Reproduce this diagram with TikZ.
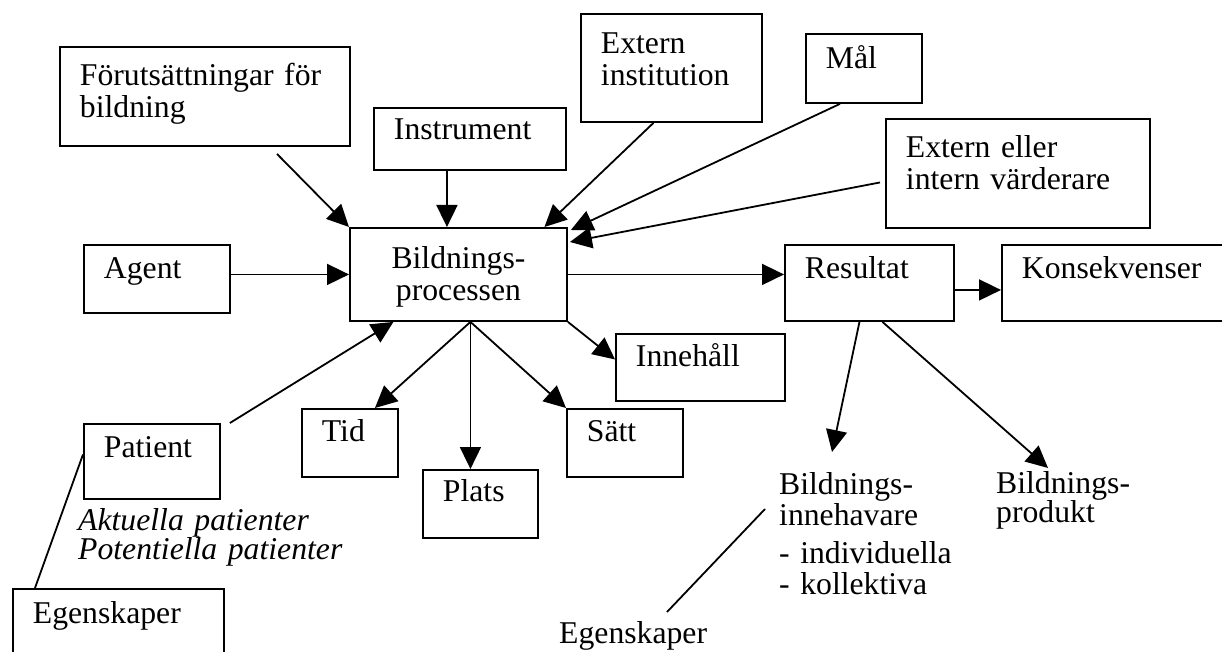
\documentclass[tikz,border=0pt]{standalone}
\usepackage{fontspec}
\setmainfont{Liberation Serif}
\usepackage{tikz}
\usetikzlibrary{arrows.meta}
\hyphenpenalty=10000
\exhyphenpenalty=10000

\begin{document}
\begin{tikzpicture}[x=1pt, y=-1pt,
    every node/.style={font=\fontsize{31.7}{31.5}\selectfont},
    box/.style={draw, line width=1.9pt, anchor=north west, inner xsep=20pt, inner ysep=0pt, align=left, text height=34pt},
    plain/.style={anchor=base west, inner sep=0pt, align=left},
    arr/.style={-{Triangle[length=22pt,width=21pt]}, line width=1.8pt},
    link/.style={line width=1.8pt}]
    \useasboundingbox (0,0) rectangle (1222,652);
    % boxes round the process
    \node[box, text width=250pt, text height=39pt, text depth=60pt] (forut) at (59,46) {Förutsättningar för\\bildning};
    \node[box, text width=152pt, text height=32pt, text depth=30pt] (instr) at (373,107) {Instrument};
    \node[box, text width=141pt, text height=40pt, text depth=68pt] (extinst) at (580,13) {Extern\\institution};
    \node[box, text width=76pt, text height=35pt, text depth=34pt] (mal) at (805,33) {Mål};
    \node[box, text width=224pt, text height=39pt, text depth=70pt] (exteller) at (885,118) {Extern eller\\intern värderare};
    \node[box, text width=106pt, text depth=34pt] (agent) at (83,244) {Agent};
    \node[box, align=center, text width=177pt, text height=41pt, text depth=52pt] (bildn) at (349,227) {Bildnings-\\processen};
    \node[box, text width=129pt, text depth=42pt] (resultat) at (784,244) {Resultat};
    \node[box, text width=200pt, text depth=42pt] (konsek) at (1001,244) {Konsekvenser};
    \node[box, text width=129pt, text height=33pt, text depth=34pt] (innehall) at (615,333) {Innehåll};
    \node[box, text width=96pt, text depth=41pt] (patient) at (83,423) {Patient};
    \node[box, text width=56pt, text height=33pt, text depth=35pt] (tid) at (301,408) {Tid};
    \node[box, text width=75pt, text height=32pt, text depth=36pt] (plats) at (422,469) {Plats};
    \node[box, text width=76pt, text height=33pt, text depth=35pt] (satt) at (566,408) {Sätt};
    \node[box, text width=171pt, text height=35pt, text depth=50pt] (egensk) at (12,588) {Egenskaper};
    % free texts
    \node[plain, text width=220pt] (innehavare) at (779,494) {Bildnings-\\innehavare\\[6pt]- individuella\\- kollektiva};
    \node[plain, text width=160pt] (produkt) at (996,493) {Bildnings-\\[-2pt]produkt};
    \node[plain, text width=300pt, font=\fontsize{31.7}{31.5}\selectfont\itshape] (patienttext) at (78,530) {Aktuella patienter\\[-2pt]Potentiella patienter};
    \node[plain] (egensk2) at (559,643) {Egenskaper};
    % into the process
    \draw[arr] ([shift={(72,7)}]forut.south) -- (bildn.north west);
    \draw[arr] ([xshift=-23pt]instr.south) -- ([xshift=-23pt]instr.south |- bildn.north);
    \draw[arr] ([xshift=-18pt]extinst.south) -- ([xshift=86pt]bildn.north);
    \draw[arr] ([xshift=-24pt]mal.south) -- ([shift={(3,3)}]bildn.north east);
    \draw[arr] ([shift={(-5,9)}]exteller.west) -- ([shift={(2,15)}]bildn.north east);
    \draw[arr] (agent.east |- bildn.west) -- (bildn.west);
    \draw[arr] ([xshift=9pt]patient.north east) -- ([xshift=-65pt]bildn.south);
    % out of the process
    \coordinate (fan) at ([xshift=12pt]bildn.south);
    \draw[arr] (fan) -- ([xshift=25pt]tid.north);
    \draw[arr] (fan) -- (fan |- plats.north);
    \draw[arr] (fan) -- (satt.north west);
    \draw[arr] (bildn.south east) -- ([yshift=8pt]innehall.west);
    \draw[arr] (bildn.east) -- (bildn.east -| resultat.west);
    \draw[arr] ([yshift=-7pt]resultat.east) -- ([yshift=-7pt]resultat.east -| konsek.west);
    \draw[arr] ([xshift=-10pt]resultat.south) -- ([shift={(53,-42)}]innehavare.base west);
    \draw[arr] ([xshift=13pt]resultat.south) -- ([shift={(52,-25)}]produkt.base west);
    % plain links
    \draw[link] ([shift={(0,-7)}]patient.west) -- ([xshift=23pt]egensk.north west);
    \draw[link] ([shift={(-14,15)}]innehavare.base west) -- ([shift={(108,-31)}]egensk2.base west);
\end{tikzpicture}
\end{document}
